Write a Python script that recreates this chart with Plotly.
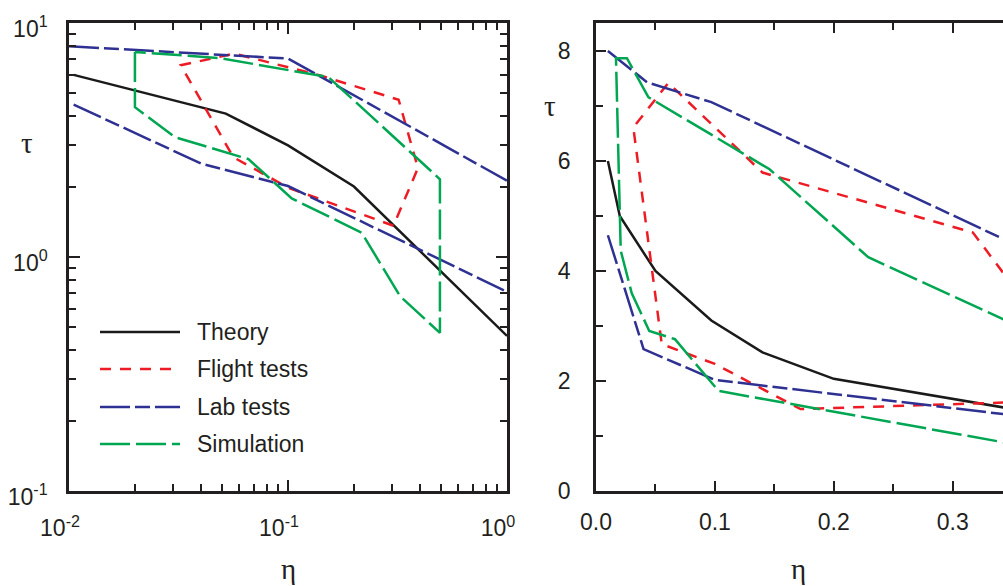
import plotly.graph_objects as go

W, H = 1003, 586

# ---------------- data: left panel (log-log) ----------------
L_theory_x = [0.0105, 0.052, 0.1, 0.2, 1.0]
L_theory_y = [6.0, 4.1, 3.0, 2.0, 0.46]
L_flight_x = [0.303, 0.1, 0.0563, 0.0324, 0.057, 0.14, 0.32, 0.392, 0.303]
L_flight_y = [1.36, 1.98, 2.67, 6.6, 7.4, 5.97, 4.7, 2.4, 1.36]
L_lab_x = [0.01, 0.1, 1.0, None, 0.0105, 0.0404, 0.1, 1.0]
L_lab_y = [7.95, 7.05, 2.12, None, 4.48, 2.5, 2.01, 0.71]
L_sim_x = [0.02, 0.02, 0.0305, 0.066, 0.104, 0.217, 0.325, 0.494, 0.494, 0.153, 0.049, 0.02]
L_sim_y = [7.52, 4.37, 3.25, 2.62, 1.78, 1.27, 0.68, 0.474, 2.15, 5.87, 7.08, 7.52]

L_xtick_vals = [0.01, 0.1, 1.0]
L_xtick_text = ["10<sup>-2</sup>", "10<sup>-1</sup>", "10<sup>0</sup>"]
L_ytick_vals = [0.1, 1.0, 10.0]
L_ytick_text = ["10<sup>-1</sup>", "10<sup>0</sup>", "10<sup>1</sup>"]

# ---------------- data: right panel (linear) ----------------
R_theory_x = [0.01, 0.02, 0.05, 0.097, 0.14, 0.2, 0.4]
R_theory_y = [6.0, 5.0, 4.0, 3.1, 2.52, 2.04, 1.31]
R_flight_x = [0.36, 0.172, 0.1, 0.0553, 0.0314, 0.0608, 0.14, 0.317, 0.36]
R_flight_y = [1.62, 1.49, 2.31, 2.67, 6.61, 7.42, 5.79, 4.70, 3.46]
R_lab_x = [0.01, 0.043, 0.097, 0.4, None, 0.01, 0.04, 0.1, 0.4]
R_lab_y = [8.0, 7.43, 7.07, 4.0, None, 4.65, 2.58, 2.02, 1.25]
R_sim_x = [0.38, 0.229, 0.146, 0.044, 0.026, 0.0168, 0.0208, 0.03, 0.0448, 0.0664, 0.103, 0.38]
R_sim_y = [2.75, 4.25, 5.85, 7.16, 7.87, 7.87, 4.37, 3.6, 2.91, 2.76, 1.82, 0.74]

series_names = ["Theory", "Flight tests", "Lab tests", "Simulation"]
colors = ["#1a1a1a", "#ed1c24", "#2e3192", "#00a651"]
dashes = ["solid", "11px,9px", "30px,5px,15px,5px", "30px,6px"]
LW = 2.5

left = [(L_theory_x, L_theory_y), (L_flight_x, L_flight_y), (L_lab_x, L_lab_y), (L_sim_x, L_sim_y)]
right = [(R_theory_x, R_theory_y), (R_flight_x, R_flight_y), (R_lab_x, R_lab_y), (R_sim_x, R_sim_y)]

fig = go.Figure()
for i, (xs, ys) in enumerate(left):
    fig.add_trace(go.Scatter(x=xs, y=ys, mode="lines", name=series_names[i], showlegend=False,
                             line=dict(color=colors[i], width=LW, dash=dashes[i]),
                             xaxis="x", yaxis="y"))
for i, (xs, ys) in enumerate(right):
    fig.add_trace(go.Scatter(x=xs, y=ys, mode="lines", name=series_names[i], showlegend=False,
                             line=dict(color=colors[i], width=LW, dash=dashes[i]),
                             xaxis="x2", yaxis="y2"))

AX = "#231f20"
TF = dict(family="Liberation Sans, Arial, sans-serif", size=23, color=AX)

def px2x(p):
    return p / W

def py2y(p):
    return 1 - p / H

ydom = [py2y(491), py2y(23)]
common = dict(showline=True, linecolor=AX, linewidth=2.5, ticks="inside", tickcolor=AX,
              tickwidth=2, showgrid=False, zeroline=False, tickfont=TF, automargin=False)

fig.update_layout(
    width=W, height=H, margin=dict(l=0, r=0, t=0, b=0, pad=0),
    paper_bgcolor="white", plot_bgcolor="white", showlegend=False,
    xaxis=dict(domain=[px2x(69), px2x(507)], type="log", range=[-2, 0],
               tickmode="array", tickvals=L_xtick_vals, ticktext=L_xtick_text,
               ticklen=11, mirror="allticks", ticklabelstandoff=15, ticklabelshift=-9,
               minor=dict(ticks="inside", ticklen=7, tickcolor=AX, tickwidth=2, dtick="D1", showgrid=False),
               anchor="y", **common),
    yaxis=dict(domain=ydom, type="log", range=[-1, 1],
               tickmode="array", tickvals=L_ytick_vals, ticktext=L_ytick_text,
               ticklen=11, mirror="allticks", ticklabelstandoff=14, ticklabelshift=6,
               minor=dict(ticks="inside", ticklen=7, tickcolor=AX, tickwidth=2, dtick="D1", showgrid=False),
               anchor="x", **common),
    xaxis2=dict(domain=[px2x(596), 1.0], range=[0, (W - 596) / 1189.0], dtick=0.1, tick0=0,
                tickformat=".1f", ticklen=10, mirror="allticks", ticklabelstandoff=9,
                minor=dict(ticks="inside", ticklen=7, tickcolor=AX, tickwidth=2, dtick=0.05, showgrid=False),
                anchor="y2", **common),
    yaxis2=dict(domain=ydom, range=[0, 468 / 55.0], dtick=2, tick0=0, ticklen=10, mirror=False,
                ticklabelstandoff=18,
                minor=dict(ticks="inside", ticklen=7, tickcolor=AX, tickwidth=2, dtick=1, showgrid=False),
                anchor="x2", **common),
)

GF = dict(family="Liberation Serif, Times New Roman, serif", size=29, color=AX)
annots = [
    dict(text="τ", x=px2x(27), y=py2y(143)),
    dict(text="τ", x=px2x(550), y=py2y(106)),
    dict(text="η", x=px2x(288), y=py2y(569)),
    dict(text="η", x=px2x(798), y=py2y(569)),
]
for a in annots:
    fig.add_annotation(xref="paper", yref="paper", showarrow=False, font=GF,
                       xanchor="center", yanchor="middle", **a)

# legend (drawn manually to match long line samples)
rows = [332, 369, 407, 444]
for i, name in enumerate(series_names):
    fig.add_shape(type="line", xref="paper", yref="paper",
                  x0=px2x(100), x1=px2x(180), y0=py2y(rows[i]), y1=py2y(rows[i]),
                  line=dict(color=colors[i], width=LW, dash=dashes[i]))
    fig.add_annotation(xref="paper", yref="paper", x=px2x(195), y=py2y(rows[i]), text=name,
                       showarrow=False, xanchor="left", yanchor="middle",
                       font=dict(family="Liberation Sans, Arial, sans-serif", size=23, color=AX))

fig.write_html("out.html")
